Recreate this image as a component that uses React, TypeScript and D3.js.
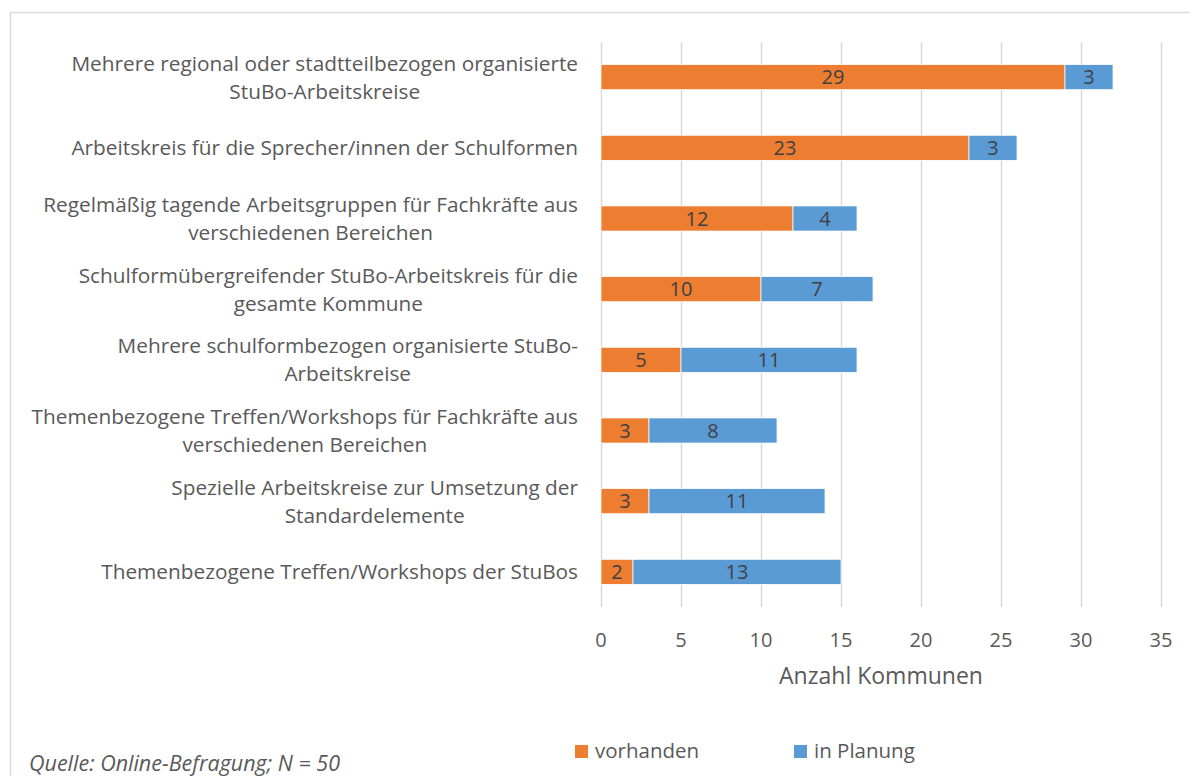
import { useEffect, useRef } from "react"
import * as d3 from "d3"

const categories = [
  ["Mehrere regional oder stadtteilbezogen organisierte", "StuBo-Arbeitskreise"],
  ["Arbeitskreis für die Sprecher/innen der Schulformen"],
  ["Regelmäßig tagende Arbeitsgruppen für Fachkräfte aus", "verschiedenen Bereichen"],
  ["Schulformübergreifender StuBo-Arbeitskreis für die", "gesamte Kommune"],
  ["Mehrere schulformbezogen organisierte StuBo-", "Arbeitskreise"],
  ["Themenbezogene Treffen/Workshops für Fachkräfte aus", "verschiedenen Bereichen"],
  ["Spezielle Arbeitskreise zur Umsetzung der", "Standardelemente"],
  ["Themenbezogene Treffen/Workshops der StuBos"],
]
const vorhanden = [29, 23, 12, 10, 5, 3, 3, 2]
const inPlanung = [3, 3, 4, 7, 11, 8, 11, 13]
const xTicks = [0, 5, 10, 15, 20, 25, 30, 35]
const seriesNames = ["vorhanden", "in Planung"]
const colors = ["#ED7D31", "#5B9BD5"]

const W = 1190
const H = 776
const FONT = "'Open Sans', 'DejaVu Sans', sans-serif"

export default function App() {
  const svgRef = useRef<SVGSVGElement>(null)

  useEffect(() => {
    if (!svgRef.current) return
    const svg = d3.select(svgRef.current)
    svg.selectAll("*").remove()

    // outer chart frame
    svg
      .append("rect")
      .attr("x", 10.5)
      .attr("y", 12.5)
      .attr("width", W)
      .attr("height", H)
      .attr("fill", "#fff")
      .attr("stroke", "#D9D9D9")
      .attr("stroke-width", 1.5)

    const x = d3.scaleLinear().domain([0, 35]).range([601, 1161])
    const y = d3
      .scaleBand<number>()
      .domain(d3.range(categories.length))
      .range([42, 607])
      .paddingInner(0.645)
      .paddingOuter(0.32)

    // gridlines
    svg
      .append("g")
      .selectAll("line")
      .data(xTicks)
      .join("line")
      .attr("x1", (d) => x(d) + 0.5)
      .attr("x2", (d) => x(d) + 0.5)
      .attr("y1", 42)
      .attr("y2", 607)
      .attr("stroke", "#D9D9D9")
      .attr("stroke-width", 1.5)

    // tick labels
    svg
      .append("g")
      .selectAll("text")
      .data(xTicks)
      .join("text")
      .attr("x", (d) => x(d))
      .attr("y", 647)
      .attr("text-anchor", "middle")
      .style("font-family", FONT)
      .style("font-size", "20px")
      .style("fill", "#595959")
      .text((d) => d)

    svg
      .append("text")
      .attr("x", x(17.5))
      .attr("y", 684)
      .attr("text-anchor", "middle")
      .style("font-family", FONT)
      .style("font-size", "23px")
      .style("fill", "#595959")
      .text("Anzahl Kommunen")

    // stacked bars
    const rows = categories.map((_, i) => ({ i, v: vorhanden[i], p: inPlanung[i] }))
    const stack = d3.stack<any>().keys(["v", "p"])(rows)

    stack.forEach((layer, k) => {
      const g = svg.append("g")
      g.selectAll("rect")
        .data(layer)
        .join("rect")
        .attr("x", (d) => x(d[0]))
        .attr("y", (d: any) => y(d.data.i)!)
        .attr("width", (d) => x(d[1]) - x(d[0]))
        .attr("height", y.bandwidth())
        .attr("fill", colors[k])
        .attr("stroke", "#fff")
        .attr("stroke-width", 0.75)
      g.selectAll("text")
        .data(layer)
        .join("text")
        .attr("x", (d) => (x(d[0]) + x(d[1])) / 2)
        .attr("y", (d: any) => y(d.data.i)! + y.bandwidth() / 2)
        .attr("dy", "0.36em")
        .attr("text-anchor", "middle")
        .style("font-family", FONT)
        .style("font-size", "20px")
        .style("fill", "#404040")
        .text((d) => d[1] - d[0])
    })

    // category labels, lines centred within a right-aligned block
    const labelRight = 578
    const lineH = 28
    categories.forEach((lines, i) => {
      const cy = y(i)! + y.bandwidth() / 2
      const g = svg.append("g")
      const texts = lines.map((line, j) =>
        g
          .append("text")
          .attr("y", cy + (j - (lines.length - 1) / 2) * lineH)
          .attr("dy", "0.36em")
          .attr("text-anchor", "middle")
          .style("font-family", FONT)
          .style("font-size", "20.8px")
          .style("fill", "#595959")
          .text(line)
      )
      const maxW = d3.max(texts, (t) => (t.node() as SVGTextElement).getComputedTextLength()) || 0
      texts.forEach((t) => t.attr("x", labelRight - maxW / 2))
    })

    // legend
    const legendX = [575, 794]
    seriesNames.forEach((name, k) => {
      svg
        .append("rect")
        .attr("x", legendX[k])
        .attr("y", 745)
        .attr("width", 13)
        .attr("height", 13)
        .attr("fill", colors[k])
      svg
        .append("text")
        .attr("x", legendX[k] + 20)
        .attr("y", 758)
        .style("font-family", FONT)
        .style("font-size", "20.5px")
        .style("fill", "#595959")
        .text(name)
    })

    // source note
    svg
      .append("text")
      .attr("x", 29)
      .attr("y", 771)
      .style("font-family", FONT)
      .style("font-size", "21.5px")
      .style("font-style", "italic")
      .style("fill", "#595959")
      .text("Quelle: Online-Befragung; N = 50")
  }, [])

  return (
    <svg
      ref={svgRef}
      width={W}
      height={H}
      style={{ position: "absolute", left: 0, top: 0, background: "#fff" }}
    ></svg>
  )
}
